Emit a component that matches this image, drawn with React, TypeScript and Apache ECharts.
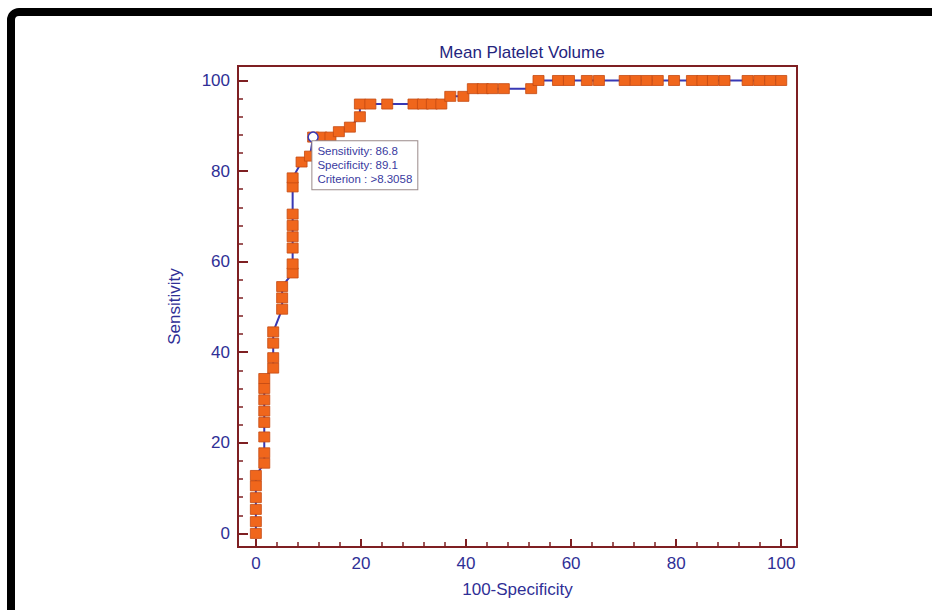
import React, { useEffect, useRef } from 'react';
import * as echarts from 'echarts';

const chartTitle = 'Mean Platelet Volume';
const xAxisName = '100-Specificity';
const yAxisName = 'Sensitivity';

// ROC curve points: x = 100-Specificity, y = Sensitivity
const rocX = [
  0, 0, 0, 0, 0, 0,
  1.6, 1.6, 1.6, 1.6, 1.6, 1.6, 1.6, 1.6,
  3.3, 3.3, 3.3, 3.3,
  5, 5, 5,
  7, 7, 7, 7, 7, 7, 7, 7,
  8.7, 10.3, 10.9,
  12.5, 14.2, 15.8, 17.9,
  19.8, 19.8, 21.8, 25, 30, 31.8, 33.5, 35.3,
  37, 39.5,
  41.3, 43.2, 45, 47.2, 52.4,
  53.8, 57.5, 59.6, 63, 65.3, 70.2, 72.3, 74.4, 76.5, 79.6,
  83, 85, 87, 89.2, 93.6, 95.8, 97.9, 100,
];
const rocY = [
  0, 2.6, 5.3, 7.9, 10.5, 12.8,
  15.5, 17.8, 21.3, 24.5, 27, 29.5, 32, 34.2,
  36.5, 38.8, 42, 44.5,
  49.5, 52, 54.5,
  57.5, 59.5, 63, 65.5, 68, 70.5, 76.5, 78.5,
  82, 83.3, 87.5,
  87.5, 87.5, 88.7, 89.7,
  92, 94.8, 94.8, 94.8, 94.8, 94.8, 94.8, 94.8,
  96.5, 96.5,
  98.2, 98.2, 98.2, 98.2, 98.2,
  100, 100, 100, 100, 100, 100, 100, 100, 100, 100,
  100, 100, 100, 100, 100, 100, 100, 100,
];

// Optimal criterion point
const criterionPoint = [10.9, 87.5];
const criterionLines = ['Sensitivity: 86.8', 'Specificity: 89.1', 'Criterion : >8.3058'];

const xTickLabels = [0, 20, 40, 60, 80, 100];
const yTickLabels = [0, 20, 40, 60, 80, 100];

const AXIS_COLOR = '#7e1f22';
const TEXT_COLOR = '#2f2f96';
const FONT = '"Liberation Sans", Arial, sans-serif';

export default function App() {
  const ref = useRef<HTMLDivElement>(null);

  useEffect(() => {
    if (!ref.current) return;
    const chart = echarts.init(ref.current, undefined, { renderer: 'svg' });
    const points = rocX.map((x, i) => [x, rocY[i]]);

    const axisCommon = (labels: number[]) => ({
      type: 'value' as const,
      minInterval: 20,
      maxInterval: 20,
      splitNumber: 5,
      splitLine: { show: false },
      axisLine: { show: true, onZero: false, lineStyle: { color: AXIS_COLOR, width: 2 } },
      minorTick: { show: true, splitNumber: 5, length: 5, lineStyle: { color: AXIS_COLOR, width: 1.5 } },
      axisLabel: {
        color: TEXT_COLOR,
        fontSize: 17,
        fontFamily: FONT,
        margin: 8,
        showMinLabel: true,
        showMaxLabel: true,
        formatter: (v: number) => (labels.indexOf(Math.round(v * 1000) / 1000) >= 0 ? String(v) : ''),
      },
      nameLocation: 'middle' as const,
      nameTextStyle: { color: TEXT_COLOR, fontSize: 17, fontFamily: FONT },
    });

    chart.setOption({
      animation: false,
      backgroundColor: '#ffffff',
      title: {
        text: chartTitle,
        left: 517,
        textAlign: 'center',
        top: 39,
        textStyle: { color: '#25257e', fontSize: 17, fontWeight: 'normal', fontFamily: FONT },
      },
      graphic: [
        {
          type: 'rect',
          shape: { x: 11, y: 12, width: 1000, height: 700, r: 8 },
          style: { fill: 'none', stroke: '#000000', lineWidth: 8 },
          silent: true,
        },
      ],
      grid: {
        left: 238,
        top: 66,
        right: 135,
        bottom: 63,
        show: true,
        borderColor: AXIS_COLOR,
        borderWidth: 2,
        backgroundColor: 'transparent',
      },
      xAxis: {
        ...axisCommon(xTickLabels),
        min: -3.4,
        max: 103,
        name: xAxisName,
        nameGap: 34,
        axisTick: { show: true, inside: true, length: 8, lineStyle: { color: AXIS_COLOR, width: 2 } },
      },
      yAxis: {
        ...axisCommon(yTickLabels),
        min: -3,
        max: 103.2,
        name: yAxisName,
        nameGap: 55,
        axisTick: { show: true, inside: true, length: 10, lineStyle: { color: AXIS_COLOR, width: 2 } },
      },
      series: [
        {
          type: 'line',
          data: points,
          symbol: 'rect',
          symbolSize: [11, 10],
          showAllSymbol: true,
          lineStyle: { color: '#3838b4', width: 2 },
          itemStyle: { color: '#f0661c', borderColor: '#c44a12', borderWidth: 0.8 },
          z: 3,
        },
        {
          type: 'scatter',
          data: [criterionPoint],
          symbol: 'circle',
          symbolSize: 10,
          itemStyle: { color: '#ffffff', borderColor: '#3838b4', borderWidth: 1.5, opacity: 1 },
          label: {
            show: true,
            position: [5, 10],
            formatter: criterionLines.join('\n'),
            backgroundColor: '#ffffff',
            borderColor: '#9a8a8a',
            borderWidth: 1,
            padding: [3, 5, 3, 5],
            fontSize: 11.5,
            lineHeight: 14,
            color: '#3a3aa0',
            fontFamily: FONT,
            align: 'left',
            verticalAlign: 'top',
          },
          z: 5,
        },
      ],
    });

    return () => chart.dispose();
  }, []);

  return (
    <div
      ref={ref}
      style={{ position: 'absolute', left: 0, top: 0, width: 932, height: 610, background: '#fff' }}
    />
  );
}
